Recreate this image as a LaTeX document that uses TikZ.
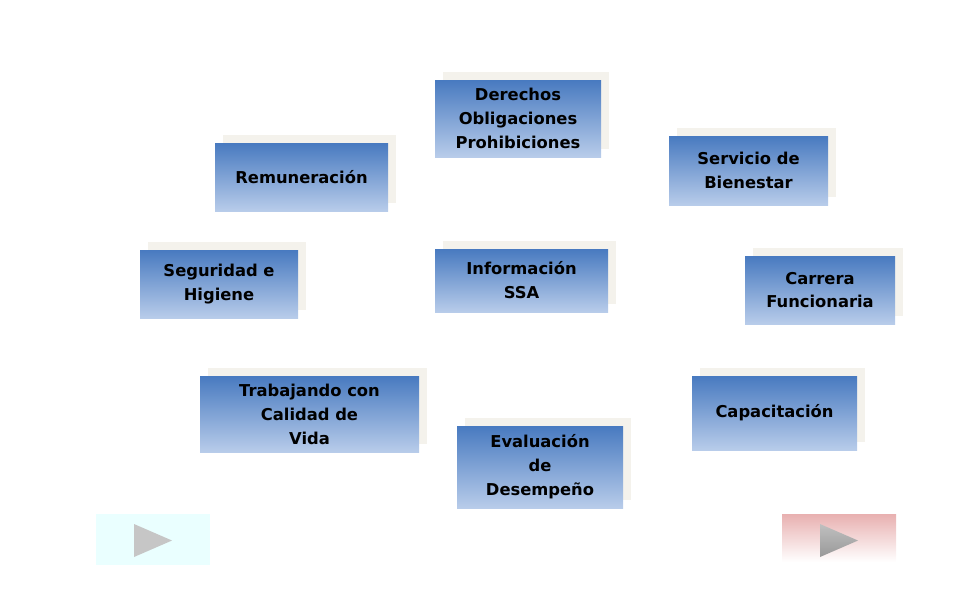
\documentclass[tikz,border=0pt]{standalone}
\usepackage{fontspec}
\setmainfont{DejaVu Sans}
\usetikzlibrary{positioning,calc}
\definecolor{boxtop}{RGB}{72,122,192}
\definecolor{boxbottom}{RGB}{184,204,234}
\definecolor{shadowbeige}{RGB}{244,242,236}
\definecolor{btncyan}{RGB}{234,255,255}
\definecolor{btnpink}{RGB}{232,176,176}
\newcommand{\infobox}[6]{%
  \fill[shadowbeige] (#2+8,#3-8) rectangle (#4+8,#5-8);
  \node[topic, minimum width={(#4-#2)*0.02cm}, minimum height={(#5-#3)*0.02cm}] (#1) at ({(#2+#4)/2},{(#3+#5)/2}) {#6};}

\begin{document}
\begin{tikzpicture}[x=0.02cm, y=-0.02cm,
    topic/.style={rectangle, inner sep=0pt, top color=boxtop, bottom color=boxbottom,
      align=center, font=\fontsize{9.3}{13.6}\selectfont\bfseries}
]
\useasboundingbox (0,0) rectangle (960,600);

% Topic boxes
\infobox{derechos}{435}{80}{601}{157}{Derechos\\Obligaciones\\Prohibiciones}
\infobox{remun}{215}{143}{388}{211}{Remuneración}
\infobox{servicio}{669}{136}{828}{205}{Servicio de\\Bienestar}
\infobox{seguridad}{140}{250}{298}{318}{Seguridad e\\Higiene}
\infobox{info}{435}{249}{608}{312}{Información\\SSA}
\infobox{carrera}{745}{256}{895}{324}{Carrera\\Funcionaria}
\infobox{trabajando}{200}{376}{419}{452}{Trabajando con\\Calidad de\\Vida}
\infobox{capacit}{692}{376}{857}{450}{Capacitación}
\infobox{evaluacion}{457}{426}{623}{508}{Evaluación\\de\\Desempeño}

% Navigation buttons
\fill[btncyan] (96,514) rectangle (210,565);
\fill[gray!45] (134,524) -- (172,540.5) -- (134,557) -- cycle;
\shade[top color=btnpink, bottom color=white] (782,514) rectangle (896,562);
\shade[top color=gray!50, bottom color=gray!80] (820,524) -- (858,540.5) -- (820,557) -- cycle;
\end{tikzpicture}
\end{document}
